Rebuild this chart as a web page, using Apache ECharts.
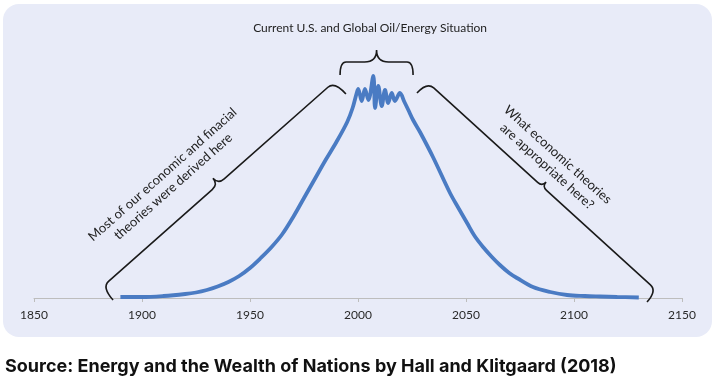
<!DOCTYPE html>
<html>
<head>
<meta charset="utf-8">
<script src="https://cdn.jsdelivr.net/npm/echarts@6/dist/echarts.min.js"></script>
<style>
html,body{margin:0;padding:0;background:#ffffff;}
#chart{width:715px;height:390px;}
</style>
</head>
<body>
<div id="chart"></div>
<script>
// ---- data ----
var years = [1890, 1900, 1910, 1920, 1925, 1930, 1935, 1940, 1945, 1950, 1955, 1960, 1965, 1970, 1975, 1980, 1985, 1990, 1995, 1997.5,
  1999.4, 2000.1, 2001.7, 2003.2, 2004.8, 2007.1, 2007.9, 2009.4, 2011.0, 2012.5, 2014.0, 2015.6, 2017.1, 2019.4, 2021.5, 2023.3,
  2025.5, 2028.7, 2034.7, 2042.6, 2046.5, 2050.5, 2054, 2057.9, 2062, 2065.7, 2070, 2073.6, 2081, 2089, 2096.8, 2105, 2112, 2120, 2130];
var energy = [1, 1, 2, 4, 5.5, 8, 11.5, 16, 22, 30, 40, 51, 64, 81, 100, 119, 138, 156, 176, 190,
  205, 209, 197, 209, 198, 222, 190, 212, 192, 208, 195, 205, 197, 205, 196, 188,
  178, 166, 141, 105, 90, 75, 62, 51, 41, 33, 25, 20, 11, 6, 3, 2, 1.5, 1, 0.5];
var xTicks = [1850, 1900, 1950, 2000, 2050, 2100, 2150];

// brace endpoints: [fromYear, fromValue, toYear, toValue]
var braces = [
  [1886.6, -2, 1994.4, 204],
  [2027.3, 205, 2133.8, -4],
  [1991.7, 223, 2025.5, 223]
];
// annotations: [year, value]
var noteTexts = [
  'Most of our economic and finacial\ntheories were derived here',
  'What economic theories\nare appropriate here?',
  'Current U.S. and Global Oil/Energy Situation'
];
var notePos = [
  [1912.0, 117.5],
  [2090.0, 137.5],
  [2005.6, 270]
];
var sourceText = 'Source: Energy and the Wealth of Nations by Hall and Klitgaard (2018)';

// ---- chart ----
var chart = echarts.init(document.getElementById('chart'), null, {renderer: 'canvas'});

var braceStyle = [
  {d: 17, c: 8, r: 9},
  {d: 15, c: 6, r: 9},
  {d: 13, c: 12, r: 6}
];
var noteStyle = [
  {rot: 41.6, size: 13},
  {rot: -42, size: 13},
  {rot: 0, size: 12}
];

function bracePath(p1, p2, s) {
  var dx = p2[0] - p1[0], dy = p2[1] - p1[1];
  var L = Math.sqrt(dx * dx + dy * dy);
  var u = [dx / L, dy / L];
  var n = [u[1], -u[0]];
  var m = [(p1[0] + p2[0]) / 2, (p1[1] + p2[1]) / 2];
  function pt(base, a, b) { return [base[0] + n[0] * a + u[0] * b, base[1] + n[1] * a + u[1] * b]; }
  var c1 = pt(p1, s.d, 0), B = pt(p1, s.d, s.r);
  var C = pt(m, s.d, -s.c), c2 = pt(m, s.d, 0), T = pt(m, s.d + s.c, 0);
  var D = pt(m, s.d, s.c), E = pt(p2, s.d, -s.r), c4 = pt(p2, s.d, 0);
  function f(p) { return p[0].toFixed(2) + ' ' + p[1].toFixed(2); }
  return 'M' + f(p1) + ' Q' + f(c1) + ' ' + f(B) + ' L' + f(C) + ' Q' + f(c2) + ' ' + f(T) +
    ' Q' + f(c2) + ' ' + f(D) + ' L' + f(E) + ' Q' + f(c4) + ' ' + f(p2);
}

var option = {
  backgroundColor: '#ffffff',
  animation: false,
  graphic: [
    {type: 'rect', z: -10, shape: {x: 3, y: 4, width: 709, height: 333, r: 16}, style: {fill: '#E8EBF8'}, silent: true},
    {type: 'text', left: 5, top: 358, style: {text: sourceText, font: 'bold 18px Inter', fill: '#111111'}}
  ],
  grid: {left: 34, right: 33, top: 48, bottom: 92},
  xAxis: {
    type: 'value', min: xTicks[0], max: xTicks[xTicks.length - 1], interval: 50,
    axisLine: {lineStyle: {color: '#BDBDBD', width: 1}},
    axisTick: {show: true, length: 4, lineStyle: {color: '#BDBDBD'}},
    splitLine: {show: false},
    axisLabel: {color: '#2a2a2a', fontFamily: 'Lato', fontSize: 12, margin: 11,
      formatter: function (v) { return String(v); }}
  },
  yAxis: {type: 'value', min: 0, max: 250, show: false},
  series: [
    {
      type: 'line', data: years.map(function (y, i) { return [y, energy[i]]; }),
      smooth: 0.35, symbol: 'none', z: 3,
      lineStyle: {color: '#4A7BC3', width: 3.8}
    },
    {
      type: 'custom', coordinateSystem: 'cartesian2d', z: 4, clip: false,
      data: braces,
      encode: {x: [0, 2], y: [1, 3]},
      renderItem: function (params, api) {
        var p1 = api.coord([api.value(0), api.value(1)]);
        var p2 = api.coord([api.value(2), api.value(3)]);
        return {
          type: 'path',
          shape: {pathData: bracePath(p1, p2, braceStyle[params.dataIndex])},
          style: {fill: null, stroke: '#1a1a1a', lineWidth: 1.6}
        };
      }
    },
    {
      type: 'custom', coordinateSystem: 'cartesian2d', z: 5, clip: false,
      data: notePos,
      renderItem: function (params, api) {
        var p = api.coord([api.value(0), api.value(1)]);
        var s = noteStyle[params.dataIndex];
        return {
          type: 'text', x: p[0], y: p[1], rotation: s.rot * Math.PI / 180,
          style: {text: noteTexts[params.dataIndex], fontFamily: 'Lato', fontSize: s.size,
            fill: '#222222', align: 'center', verticalAlign: 'middle', lineHeight: 16}
        };
      }
    }
  ]
};
chart.setOption(option);
</script>
</body>
</html>
